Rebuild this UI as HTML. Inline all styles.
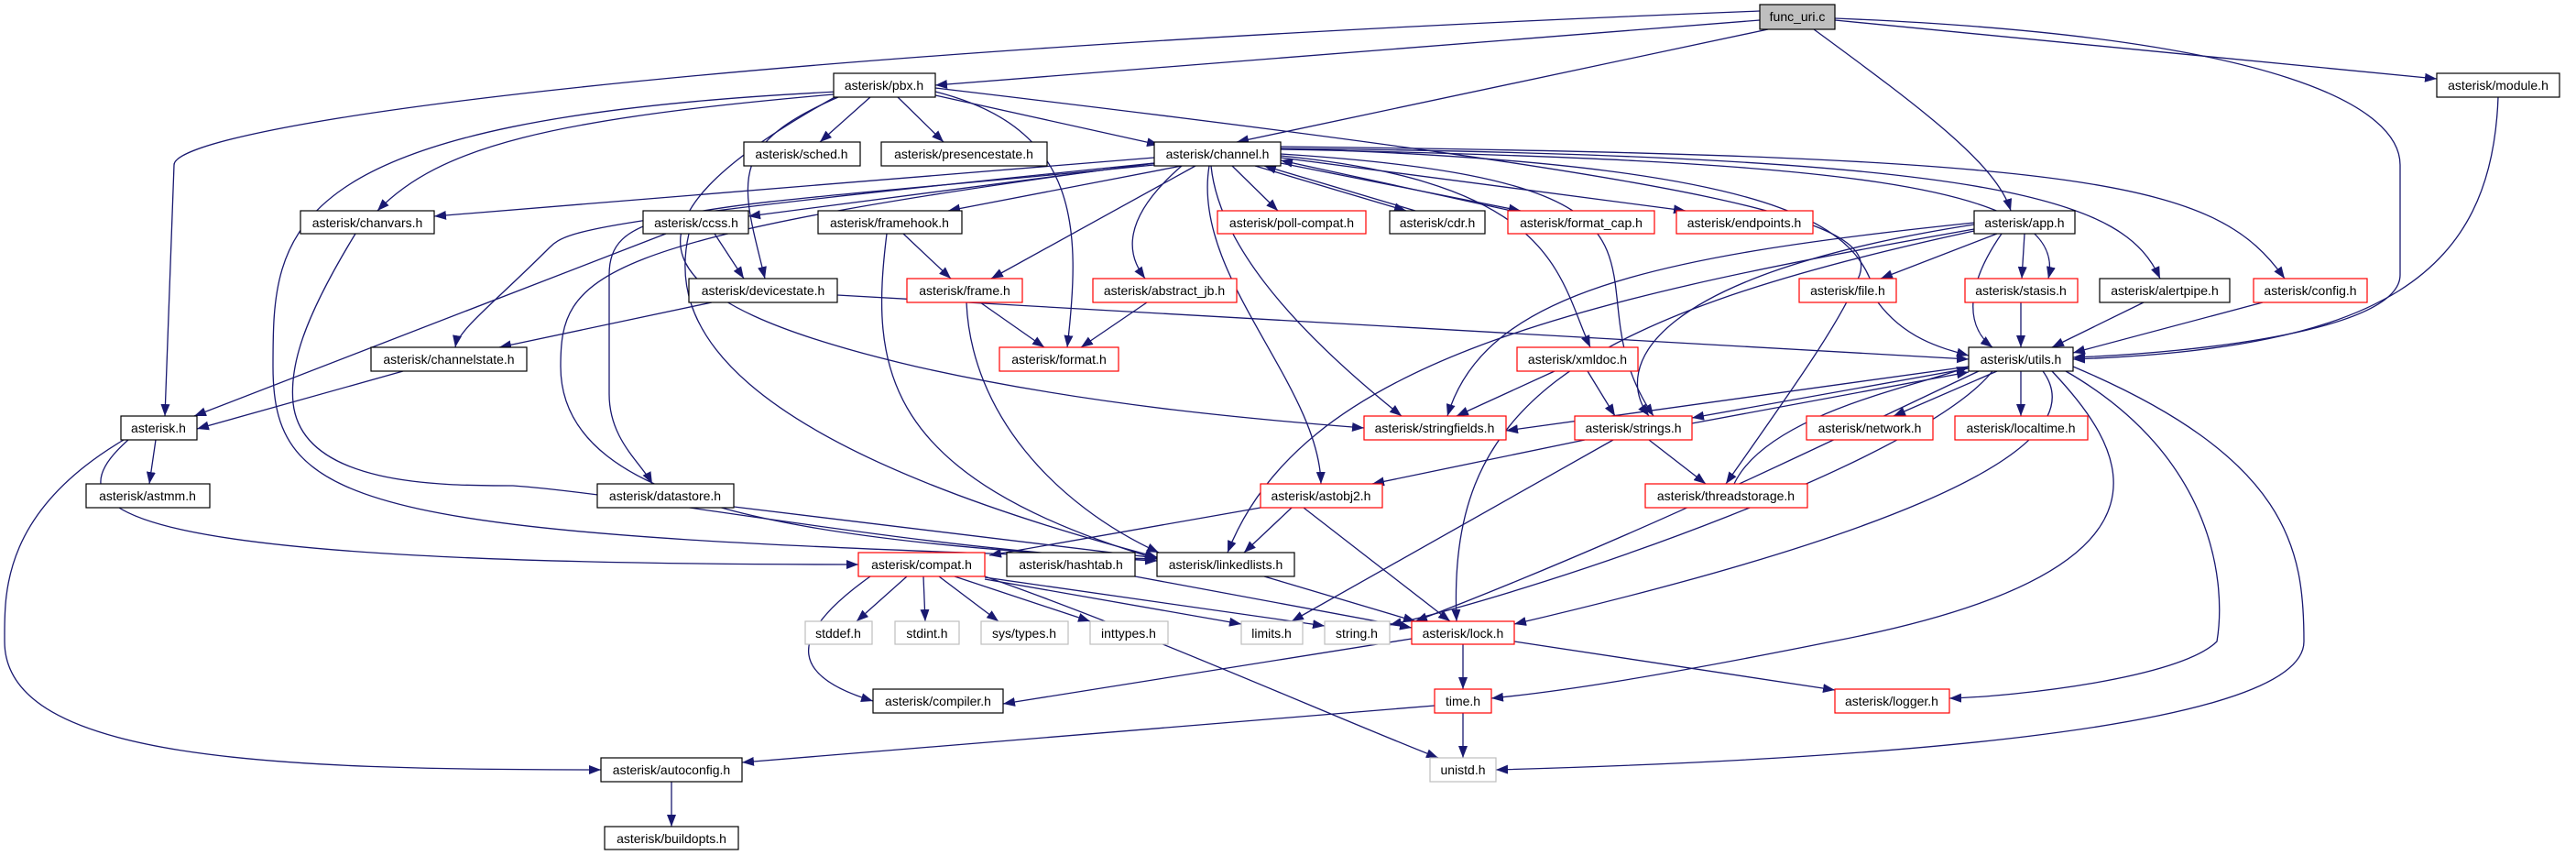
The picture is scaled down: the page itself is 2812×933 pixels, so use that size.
<!DOCTYPE html>
<html><head><meta charset="utf-8">
<style>
html,body{margin:0;padding:0;background:#fff;}
svg{display:block;}
text{font-family:"Liberation Sans",sans-serif;font-size:14px;fill:#000;text-anchor:middle;}
</style></head>
<body>
<svg id="s" width="2812" height="933" viewBox="0 0 2812 933" xmlns="http://www.w3.org/2000/svg">
<defs>
<marker id="a" markerUnits="userSpaceOnUse" markerWidth="14" markerHeight="10" refX="13" refY="5" orient="auto">
<path d="M0,0 L13,5 L0,10 Z" fill="#191970"/>
</marker>
</defs>
<g id="edges" fill="none" stroke="#191970" stroke-width="1.3"></g>
<g id="nodes" stroke-width="1.2">
<rect x="1921" y="5" width="82" height="27" fill="#bfbfbf" stroke="#000"/><text x="1962" y="23">func_uri.c</text>
<rect x="910" y="80" width="111" height="26" fill="#fff" stroke="#000"/><text x="965" y="98">asterisk/pbx.h</text>
<rect x="2660" y="80" width="134" height="26" fill="#fff" stroke="#000"/><text x="2727" y="98">asterisk/module.h</text>
<rect x="812" y="155" width="127" height="26" fill="#fff" stroke="#000"/><text x="875" y="173">asterisk/sched.h</text>
<rect x="962" y="155" width="181" height="26" fill="#fff" stroke="#000"/><text x="1052" y="173">asterisk/presencestate.h</text>
<rect x="1260" y="155" width="138" height="26" fill="#fff" stroke="#000"/><text x="1329" y="173">asterisk/channel.h</text>
<rect x="328" y="230" width="146" height="25" fill="#fff" stroke="#000"/><text x="401" y="248">asterisk/chanvars.h</text>
<rect x="702" y="230" width="115" height="25" fill="#fff" stroke="#000"/><text x="760" y="248">asterisk/ccss.h</text>
<rect x="893" y="230" width="157" height="25" fill="#fff" stroke="#000"/><text x="971" y="248">asterisk/framehook.h</text>
<rect x="1329" y="230" width="162" height="25" fill="#fff" stroke="#f00"/><text x="1410" y="248">asterisk/poll-compat.h</text>
<rect x="1517" y="230" width="104" height="25" fill="#fff" stroke="#000"/><text x="1569" y="248">asterisk/cdr.h</text>
<rect x="1646" y="230" width="160" height="25" fill="#fff" stroke="#f00"/><text x="1726" y="248">asterisk/format_cap.h</text>
<rect x="1830" y="230" width="149" height="25" fill="#fff" stroke="#f00"/><text x="1904" y="248">asterisk/endpoints.h</text>
<rect x="2155" y="230" width="110" height="25" fill="#fff" stroke="#000"/><text x="2210" y="248">asterisk/app.h</text>
<rect x="752" y="304" width="162" height="26" fill="#fff" stroke="#000"/><text x="833" y="322">asterisk/devicestate.h</text>
<rect x="990" y="304" width="126" height="26" fill="#fff" stroke="#f00"/><text x="1053" y="322">asterisk/frame.h</text>
<rect x="1193" y="304" width="157" height="26" fill="#fff" stroke="#f00"/><text x="1271" y="322">asterisk/abstract_jb.h</text>
<rect x="1964" y="304" width="106" height="26" fill="#fff" stroke="#f00"/><text x="2017" y="322">asterisk/file.h</text>
<rect x="2145" y="304" width="123" height="26" fill="#fff" stroke="#f00"/><text x="2206" y="322">asterisk/stasis.h</text>
<rect x="2292" y="304" width="142" height="26" fill="#fff" stroke="#000"/><text x="2363" y="322">asterisk/alertpipe.h</text>
<rect x="2460" y="304" width="124" height="26" fill="#fff" stroke="#f00"/><text x="2522" y="322">asterisk/config.h</text>
<rect x="405" y="379" width="170" height="26" fill="#fff" stroke="#000"/><text x="490" y="397">asterisk/channelstate.h</text>
<rect x="1091" y="379" width="130" height="26" fill="#fff" stroke="#f00"/><text x="1156" y="397">asterisk/format.h</text>
<rect x="1656" y="379" width="132" height="26" fill="#fff" stroke="#f00"/><text x="1722" y="397">asterisk/xmldoc.h</text>
<rect x="2149" y="379" width="114" height="26" fill="#fff" stroke="#000"/><text x="2206" y="397">asterisk/utils.h</text>
<rect x="132" y="454" width="83" height="26" fill="#fff" stroke="#000"/><text x="173" y="472">asterisk.h</text>
<rect x="1489" y="454" width="155" height="26" fill="#fff" stroke="#f00"/><text x="1566" y="472">asterisk/stringfields.h</text>
<rect x="1719" y="454" width="128" height="26" fill="#fff" stroke="#f00"/><text x="1783" y="472">asterisk/strings.h</text>
<rect x="1972" y="454" width="138" height="26" fill="#fff" stroke="#f00"/><text x="2041" y="472">asterisk/network.h</text>
<rect x="2134" y="454" width="145" height="26" fill="#fff" stroke="#f00"/><text x="2206" y="472">asterisk/localtime.h</text>
<rect x="94" y="528" width="135" height="26" fill="#fff" stroke="#000"/><text x="161" y="546">asterisk/astmm.h</text>
<rect x="652" y="528" width="149" height="26" fill="#fff" stroke="#000"/><text x="726" y="546">asterisk/datastore.h</text>
<rect x="1376" y="528" width="133" height="26" fill="#fff" stroke="#f00"/><text x="1442" y="546">asterisk/astobj2.h</text>
<rect x="1796" y="528" width="177" height="26" fill="#fff" stroke="#f00"/><text x="1884" y="546">asterisk/threadstorage.h</text>
<rect x="937" y="603" width="138" height="26" fill="#fff" stroke="#f00"/><text x="1006" y="621">asterisk/compat.h</text>
<rect x="1099" y="603" width="140" height="26" fill="#fff" stroke="#000"/><text x="1169" y="621">asterisk/hashtab.h</text>
<rect x="1263" y="603" width="150" height="26" fill="#fff" stroke="#000"/><text x="1338" y="621">asterisk/linkedlists.h</text>
<rect x="879" y="678" width="73" height="25" fill="#fff" stroke="#bfbfbf"/><text x="915" y="696">stddef.h</text>
<rect x="977" y="678" width="70" height="25" fill="#fff" stroke="#bfbfbf"/><text x="1012" y="696">stdint.h</text>
<rect x="1071" y="678" width="95" height="25" fill="#fff" stroke="#bfbfbf"/><text x="1118" y="696">sys/types.h</text>
<rect x="1190" y="678" width="85" height="25" fill="#fff" stroke="#bfbfbf"/><text x="1232" y="696">inttypes.h</text>
<rect x="1355" y="678" width="67" height="25" fill="#fff" stroke="#bfbfbf"/><text x="1388" y="696">limits.h</text>
<rect x="1446" y="678" width="71" height="25" fill="#fff" stroke="#bfbfbf"/><text x="1481" y="696">string.h</text>
<rect x="1541" y="678" width="112" height="25" fill="#fff" stroke="#f00"/><text x="1597" y="696">asterisk/lock.h</text>
<rect x="953" y="752" width="142" height="26" fill="#fff" stroke="#000"/><text x="1024" y="770">asterisk/compiler.h</text>
<rect x="1566" y="752" width="62" height="26" fill="#fff" stroke="#f00"/><text x="1597" y="770">time.h</text>
<rect x="2003" y="752" width="125" height="26" fill="#fff" stroke="#f00"/><text x="2065" y="770">asterisk/logger.h</text>
<rect x="656" y="827" width="154" height="26" fill="#fff" stroke="#000"/><text x="733" y="845">asterisk/autoconfig.h</text>
<rect x="1561" y="827" width="72" height="26" fill="#fff" stroke="#bfbfbf"/><text x="1597" y="845">unistd.h</text>
<rect x="660" y="902" width="146" height="25" fill="#fff" stroke="#000"/><text x="733" y="920">asterisk/buildopts.h</text>
</g>
</svg>
<script>
var P=[
"M1921,22 L1021,93","M1930,32 L1350,155","M1921,12 C700,60 190,140 190,180 L180,454","M1980,32 C2100,120 2180,180 2195,230",
"M2003,22 L2660,86","M2003,20 C2500,40 2620,120 2620,180 L2620,300 C2620,360 2400,385 2263,390",
"M950,106 L895,155","M980,106 L1030,155","M1021,104 L1265,158","M910,103 C600,130 480,160 412,230",
"M915,106 C790,160 810,200 835,304","M1021,100 C1180,140 1180,250 1165,379",
"M915,104 C650,250 700,330 1000,400 C1200,445 1400,460 1489,467",
"M915,100 C300,130 298,250 298,400 C298,560 400,584 1263,610",
"M1021,96 C1900,200 2050,240 2030,300 C2010,350 1960,420 1884,528",
"M1260,172 L474,236","M1262,178 L817,236","M1290,181 L1035,230","M1345,181 L1395,230",
"M1370,181 L1535,230","M1545,230 L1380,181","M1398,178 L1660,230","M1650,230 L1398,175","M1398,172 L1840,230",
"M1305,181 L1082,304","M1290,181 C1210,250 1240,290 1250,304","M1320,181 C1300,300 1440,420 1442,528",
"M1322,181 C1330,260 1400,350 1530,454","M1260,178 C650,240 620,250 600,270 C540,330 500,360 497,379",
"M1260,180 C760,230 665,220 665,300 L665,430 C665,480 700,505 712,528",
"M1260,178 C640,260 612,300 612,400 C612,560 900,590 1263,612",
"M1398,162 C2000,180 2030,260 2050,330 C2080,370 2120,380 2149,388","M1398,163 C2000,175 2260,200 2236,304",
"M1398,162 C2200,170 2320,220 2358,304","M1398,160 C2300,170 2420,200 2494,304",
"M1398,170 C1700,200 1700,300 1736,379","M1398,168 C1900,200 1700,300 1805,454",
"M780,255 L812,304","M727,255 L212,454","M752,255 C730,350 780,480 1263,608",
"M986,255 L1038,304","M968,255 C950,400 960,520 1263,610",
"M777,330 L545,379","M914,322 L2149,392",
"M388,255 C330,350 316,400 320,440 C330,530 480,530 560,530 C700,540 1000,600 1263,612",
"M1070,330 L1140,379","M1055,330 C1060,450 1150,550 1265,603","M1252,330 L1180,379",
"M440,405 L215,468","M170,480 L163,528","M140,480 C50,560 120,616 937,616",
"M135,480 C0,560 5,650 5,700 C5,830 300,840 656,840",
"M801,553 L1263,609","M1376,554 L1080,606","M1410,554 L1358,603","M1423,554 L1583,678",
"M2180,255 L2053,304","M2210,255 L2207,304","M2185,255 C2140,320 2150,360 2175,379",
"M2155,243 C1800,280 1620,320 1580,454","M2155,245 C1800,300 1760,400 1800,454",
"M2155,250 C1700,330 1420,400 1340,603","M2155,252 C1700,350 1580,450 1590,678",
"M2206,330 L2206,379","M2340,330 L2240,379","M2470,330 L2263,385",
"M2727,106 C2720,300 2600,380 2263,392",
"M1697,405 L1590,454","M1733,405 L1763,454",
"M2149,400 L1644,470","M2149,402 L1847,456","M1847,462 L2149,406",
"M2180,405 L2067,454","M2206,405 L2206,454",
"M2230,405 C2300,500 2000,600 1653,681","M2160,405 C2000,480 1800,580 1545,678",
"M2240,405 C2310,480 2420,620 2000,700 C1800,740 1700,755 1628,762",
"M2255,405 C2420,500 2430,640 2420,700 C2380,740 2200,760 2128,762",
"M2263,400 C2500,500 2515,600 2515,700 C2515,800 2000,830 1633,840",
"M2175,405 C2100,500 1700,640 1517,682",
"M1730,480 L1498,528","M1800,480 L1862,528","M1761,480 L1410,678",
"M1893,528 C1930,450 2100,420 2149,400",
"M990,629 L935,678","M1008,629 L1010,678","M1025,629 L1090,678","M1042,629 L1190,678",
"M1075,632 L1355,681","M1075,630 L1446,683","M1075,629 C1250,690 1450,780 1570,827",
"M950,629 C850,700 870,740 953,765",
"M1239,629 L1541,685","M1380,629 L1545,678",
"M1541,697 L1095,768","M1597,703 L1597,752","M1653,700 L2003,753",
"M1566,770 L810,832","M1597,778 L1597,827","M733,853 L733,902"
];
var g=document.getElementById('edges'),ns='http://www.w3.org/2000/svg';
P.forEach(function(d){var p=document.createElementNS(ns,'path');p.setAttribute('d',d);p.setAttribute('marker-end','url(#a)');g.appendChild(p);});
</script>
</body></html>
